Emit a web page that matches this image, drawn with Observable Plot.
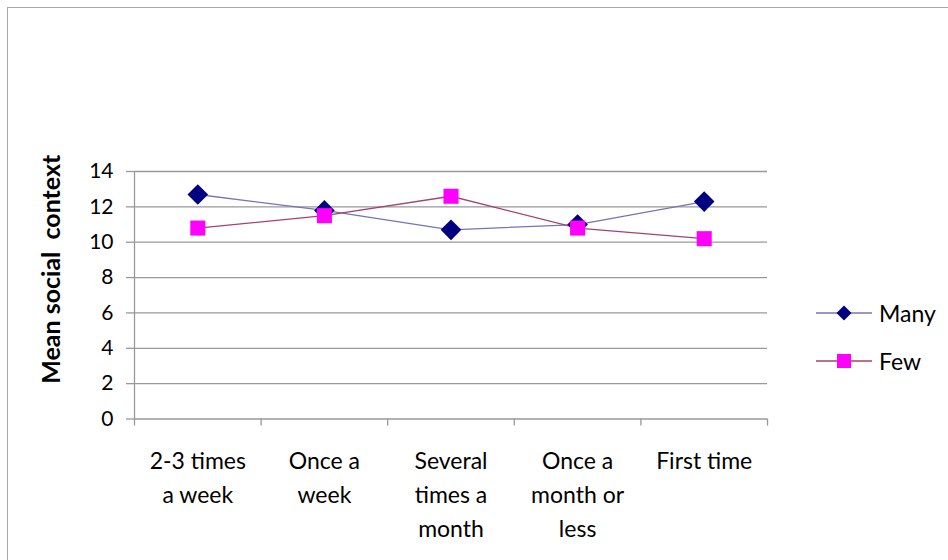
<!DOCTYPE html>
<html>
<head>
<meta charset="utf-8">
<script src="https://cdn.jsdelivr.net/npm/d3@7"></script>
<script src="https://cdn.jsdelivr.net/npm/@observablehq/plot@0.6"></script>
<style>
  body { margin: 0; background: #fff; }
  #chart { position: relative; width: 948px; height: 560px; overflow: hidden; font-family: Lato, sans-serif; }
  #frame { position: absolute; left: 7px; top: 7px; width: 1200px; height: 1200px; border: 1.5px solid #a8a8a8; box-sizing: border-box; }
  #plot { position: absolute; left: 0; top: 0; }
  .legend-row { position: absolute; left: 814px; height: 24px; display: flex; align-items: center; font-size: 23px; color: #000; }
  .legend-row svg { display: block; margin-right: 7px; }
</style>
</head>
<body>
<div id="chart">
  <div id="frame"></div>
  <div id="plot"></div>
</div>
<script>
// Visit frequency categories (x axis), with line breaks as set in the chart
const categories = ["2-3 times\na week", "Once a\nweek", "Several\ntimes a\nmonth", "Once a\nmonth or\nless", "First time"];
// Mean social context per category
const many = [12.7, 11.8, 10.7, 11.0, 12.3];
const few = [10.8, 11.5, 12.6, 10.8, 10.2];
const yTicks = [0, 2, 4, 6, 8, 10, 12, 14];
const seriesNames = ["Many", "Few"];
const yTitle = "Mean social  context";

const colors = {
  Many: {fill: "#000080", line: "#7474b6", symbol: "diamond2"},
  Few: {fill: "#ff00ff", line: "#a6426f", symbol: "square"}
};
const gridColor = "#999999";

const rows = categories.map((label, i) => ({pos: i + 0.5, label, many: many[i], few: few[i]}));

const plot = Plot.plot({
  width: 948,
  height: 560,
  marginLeft: 134,
  marginRight: 181,
  marginTop: 171,
  marginBottom: 141.5,
  style: {fontFamily: "Lato, sans-serif", background: "transparent", color: "#000", overflow: "visible"},
  x: {type: "linear", domain: [0, categories.length], axis: null},
  y: {domain: [0, 14], axis: null},
  marks: [
    Plot.gridY(yTicks, {stroke: gridColor, strokeOpacity: 1, strokeWidth: 1.3}),
    Plot.axisY({ticks: yTicks, tickSize: 8, tickPadding: 13, fontSize: 21, stroke: gridColor, strokeWidth: 1.3, color: "#000", label: null}),
    Plot.ruleX([0], {y1: 0, y2: 14, stroke: gridColor, strokeWidth: 1.3}),
    Plot.axisX({ticks: d3.range(categories.length + 1), tickSize: 7, tickFormat: () => "", stroke: gridColor, strokeWidth: 1.3, label: null}),
    Plot.text(rows, {x: "pos", text: "label", frameAnchor: "bottom", lineAnchor: "top", lineHeight: 1.478, fontSize: 23, dy: 25.5, fill: "#000"}),
    Plot.text([yTitle], {text: d => d, frameAnchor: "left", textAnchor: "middle", lineAnchor: "middle", rotate: -90, dx: -83, dy: -26, fontSize: 25, fontWeight: "bold", fill: "#000"}),
    Plot.line(rows, {x: "pos", y: "many", stroke: colors.Many.line, strokeWidth: 1.3}),
    Plot.line(rows, {x: "pos", y: "few", stroke: colors.Few.line, strokeWidth: 1.3}),
    Plot.dot(rows, {x: "pos", y: "many", symbol: colors.Many.symbol, r: 9.3, fill: colors.Many.fill, stroke: "none"}),
    Plot.dot(rows, {x: "pos", y: "few", symbol: colors.Few.symbol, r: 8.5, fill: colors.Few.fill, stroke: "none"})
  ]
});
document.getElementById("plot").appendChild(plot);

// Legend: line through marker, then series name
const legendTops = {Many: 301, Few: 349};
const legendSymbols = {Many: d3.symbol(d3.symbolDiamond2, 144), Few: d3.symbol(d3.symbolSquare, 196)};
const chart = d3.select("#chart");
seriesNames.forEach(name => {
  const row = chart.append("div").attr("class", "legend-row").style("top", legendTops[name] + "px");
  const svg = row.append("svg").attr("width", 58).attr("height", 24);
  svg.append("line").attr("x1", 2).attr("x2", 58).attr("y1", 12).attr("y2", 12)
    .attr("stroke", colors[name].line).attr("stroke-width", 1.3);
  svg.append("path").attr("d", legendSymbols[name]()).attr("transform", "translate(30,12)")
    .attr("fill", colors[name].fill);
  row.append("span").text(name);
});
</script>
</body>
</html>
